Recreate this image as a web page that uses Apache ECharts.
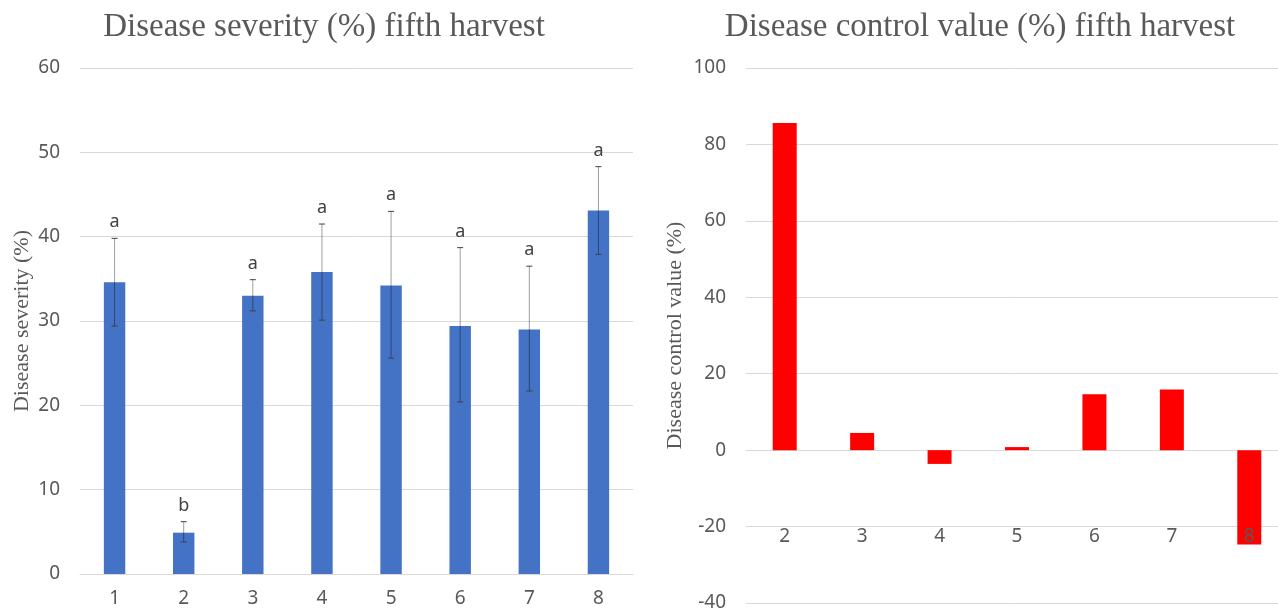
<!DOCTYPE html>
<html>
<head>
<meta charset="utf-8">
<script src="https://cdn.jsdelivr.net/npm/echarts@6/dist/echarts.min.js"></script>
<style>
  html, body { margin: 0; padding: 0; background: #fff; }
  #chart { width: 1278px; height: 608px; }
</style>
</head>
<body>
<div id="chart"></div>
<script>
// Disease severity per treatment (fifth harvest), with error bar bounds
const treatments = ['1', '2', '3', '4', '5', '6', '7', '8'];
const severity = [34.6, 4.9, 33.0, 35.8, 34.2, 29.4, 29.0, 43.1];
const severityHigh = [39.8, 6.2, 34.9, 41.5, 43.0, 38.7, 36.5, 48.3];
const severityLow = [29.4, 3.8, 31.2, 30.1, 25.6, 20.4, 21.7, 37.9];
const significance = ['a', 'b', 'a', 'a', 'a', 'a', 'a', 'a'];

// Disease control value per treatment (fifth harvest)
const controlTreatments = ['2', '3', '4', '5', '6', '7', '8'];
const controlValue = [85.6, 4.5, -3.6, 0.8, 14.6, 15.9, -24.7];

const tickFont = 'Noto Sans';
const serifFont = 'Liberation Serif';
const textGray = '#595959';
const gridGray = '#d9d9d9';

const chart = echarts.init(document.getElementById('chart'), null, { renderer: 'canvas' });

const errorData = treatments.map((_, i) => [i, severityHigh[i], severityLow[i]]);

chart.setOption({
  animation: false,
  backgroundColor: '#ffffff',
  title: [
    {
      text: 'Disease severity (%) fifth harvest',
      left: 319, top: 6, textAlign: 'center',
      textStyle: { fontFamily: serifFont, fontSize: 33, fontWeight: 'normal', color: textGray }
    },
    {
      text: 'Disease control value (%) fifth harvest',
      left: 975, top: 6, textAlign: 'center',
      textStyle: { fontFamily: serifFont, fontSize: 33, fontWeight: 'normal', color: textGray }
    }
  ],
  grid: [
    { left: 80, right: 645, top: 68, bottom: 34, containLabel: false, outerBoundsMode: 'none' },
    { left: 746, right: -10, top: 68, bottom: 5, containLabel: false, outerBoundsMode: 'none' }
  ],
  xAxis: [
    {
      type: 'category', gridIndex: 0, data: treatments,
      axisLine: { show: true, lineStyle: { color: gridGray } },
      axisTick: { show: false },
      axisLabel: { color: textGray, fontFamily: tickFont, fontSize: 19, margin: 15 }
    },
    {
      // category labels sit just under the -20 gridline
      type: 'category', gridIndex: 1, data: controlTreatments, z: 10,
      position: 'bottom', offset: -76,
      axisLine: { show: false, onZero: false },
      axisTick: { show: false },
      axisLabel: { color: textGray, fontFamily: tickFont, fontSize: 19, margin: 0 }
    }
  ],
  yAxis: [
    {
      type: 'value', gridIndex: 0, min: 0, max: 60, interval: 10,
      name: 'Disease severity (%)', nameLocation: 'middle', nameGap: 47,
      nameTextStyle: { fontFamily: serifFont, fontSize: 22, color: textGray },
      axisLine: { show: false }, axisTick: { show: false },
      axisLabel: { color: textGray, fontFamily: tickFont, fontSize: 19, margin: 20 },
      splitLine: { lineStyle: { color: gridGray, width: 1 } }
    },
    {
      type: 'value', gridIndex: 1, min: -40, max: 100, interval: 20,
      name: 'Disease control value (%)', nameLocation: 'middle', nameGap: 60,
      nameTextStyle: { fontFamily: serifFont, fontSize: 22, color: textGray },
      axisLine: { show: false }, axisTick: { show: false },
      axisLabel: { color: textGray, fontFamily: tickFont, fontSize: 19, margin: 20 },
      splitLine: { lineStyle: { color: gridGray, width: 1 } }
    }
  ],
  series: [
    {
      type: 'bar', xAxisIndex: 0, yAxisIndex: 0, data: severity,
      barWidth: '31%',
      itemStyle: { color: '#4472C4' }
    },
    {
      type: 'custom', xAxisIndex: 0, yAxisIndex: 0, z: 5,
      data: errorData,
      encode: { x: 0, y: [1, 2] },
      renderItem: function (params, api) {
        const idx = api.value(0);
        const top = api.coord([idx, api.value(1)]);
        const bot = api.coord([idx, api.value(2)]);
        const cap = 3;
        return {
          type: 'group',
          children: [
            { type: 'line', shape: { x1: top[0], y1: top[1], x2: bot[0], y2: bot[1] },
              style: { stroke: 'rgba(0,0,0,0.38)', lineWidth: 1 } },
            { type: 'line', shape: { x1: top[0] - cap, y1: top[1], x2: top[0] + cap, y2: top[1] },
              style: { stroke: '#404040', lineWidth: 1 } },
            { type: 'line', shape: { x1: bot[0] - cap, y1: bot[1], x2: bot[0] + cap, y2: bot[1] },
              style: { stroke: '#404040', lineWidth: 1 } },
            { type: 'text', x: top[0], y: top[1] - 7,
              style: { text: significance[params.dataIndex], align: 'center', verticalAlign: 'bottom',
                       fontFamily: tickFont, fontSize: 18, fill: '#404040' } }
          ]
        };
      }
    },
    {
      type: 'bar', xAxisIndex: 1, yAxisIndex: 1, data: controlValue,
      barWidth: '31%',
      itemStyle: { color: '#FF0000' }
    }
  ]
});
</script>
</body>
</html>
